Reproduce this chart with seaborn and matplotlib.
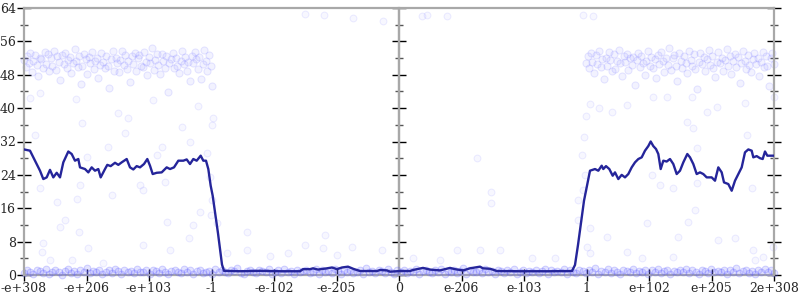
import numpy as np
import pandas as pd
import matplotlib
matplotlib.use("Agg")
import matplotlib.pyplot as plt
from matplotlib.ticker import MultipleLocator, NullFormatter
import seaborn as sns

# ---------------- data ----------------
tick_pos = list(range(13))
tick_labels = ["-e+308", "-e+206", "-e+103", "-1", "-e-102", "-e-205", "0",
               "e-206", "e-103", "1", "e+102", "e+205", "2e+308"]

# moving-average line (x in sample-position units 0..12, y value)
line_x = [0.0, 0.096, 0.176, 0.256, 0.309, 0.363, 0.416, 0.469, 0.523, 0.576, 0.629, 0.709,
          0.763, 0.816, 0.869, 0.896, 0.976, 1.029, 1.083, 1.136, 1.189, 1.227, 1.296, 1.333,
          1.387, 1.456, 1.509, 1.563, 1.643, 1.696, 1.749, 1.803, 1.856, 1.92, 1.973, 2.016,
          2.059, 2.123, 2.203, 2.283, 2.336, 2.4, 2.469, 2.549, 2.603, 2.656, 2.709, 2.763,
          2.827, 2.869, 2.912, 2.949, 2.987, 3.019, 3.104, 3.168, 3.2,
          3.456, 3.776, 4.096, 4.416, 4.464, 4.576, 4.624, 4.704, 4.848, 4.928, 5.008, 5.088,
          5.184, 5.264, 5.376, 5.648, 5.696, 5.808, 5.856, 6.016, 6.176, 6.224, 6.384, 6.496,
          6.656, 6.816, 6.896, 7.024, 7.136, 7.296, 7.344, 7.456, 7.568, 7.936, 8.416, 8.768,
          8.816, 8.864, 8.96, 9.003, 9.056,
          9.136, 9.189, 9.243, 9.269, 9.312, 9.365, 9.419, 9.456, 9.509, 9.563, 9.616, 9.669,
          9.723, 9.776, 9.829, 9.883, 9.936, 9.989, 10.027, 10.069, 10.112, 10.149, 10.187,
          10.229, 10.283, 10.336, 10.389, 10.443, 10.496, 10.549, 10.613, 10.656, 10.709,
          10.763, 10.816, 10.869, 10.923, 11.003, 11.056, 11.109, 11.163, 11.2, 11.269,
          11.323, 11.376, 11.429, 11.483, 11.536, 11.589, 11.643, 11.669, 11.723, 11.776,
          11.819, 11.856, 11.893, 11.936, 12.0]
line_y = [30.1, 29.8, 27.4, 25.0, 23.0, 23.4, 25.2, 23.4, 24.5, 23.4, 27.0, 29.6,
          29.0, 27.4, 27.8, 25.8, 25.4, 24.6, 25.8, 25.0, 25.4, 23.4, 25.4, 26.4,
          26.1, 26.9, 26.4, 27.0, 27.8, 25.8, 25.3, 26.1, 25.8, 26.6, 27.8, 26.2,
          24.2, 24.5, 24.6, 25.8, 25.4, 25.8, 27.4, 27.4, 27.7, 26.6, 27.8, 27.4,
          28.6, 27.4, 27.4, 25.4, 21.4, 19.0, 10.0, 2.5, 1.0,
          0.9, 1.0, 0.9, 0.9, 1.4, 1.4, 1.6, 1.3, 1.6, 1.8, 1.4, 1.8,
          2.0, 1.5, 0.95, 0.95, 1.2, 1.1, 0.8, 0.95, 0.95, 1.2, 1.7, 1.3,
          1.1, 1.7, 1.4, 1.1, 1.6, 2.0, 1.6, 1.5, 0.95, 0.9, 0.9, 0.95,
          2.4, 7.2, 17.8, 21.0, 25.0,
          25.4, 25.0, 26.2, 25.4, 26.1, 25.4, 23.8, 24.6, 23.0, 24.0, 23.4, 24.2,
          25.8, 27.0, 27.8, 28.2, 29.8, 30.9, 32.0, 30.9, 30.2, 29.0, 25.4,
          27.4, 27.2, 27.8, 26.6, 24.2, 25.0, 27.0, 29.0, 28.2, 26.6,
          24.2, 24.6, 24.2, 23.4, 23.4, 22.6, 25.8, 24.6, 22.2, 21.8,
          20.2, 22.6, 24.2, 25.8, 29.4, 30.1, 29.8, 28.2, 28.5, 28.0,
          27.8, 29.6, 28.6, 28.6, 28.6]

# high cluster of samples, left segment (x 0..3) and right segment (x 9..12)
hi_left = [51.5, 49.8, 52.6, 50.9, 53.1, 48.7, 51.2, 52.8, 50.3, 47.6, 52.1, 51.7, 49.5, 53.4,
           50.6, 52.9, 48.9, 51.9, 50.2, 53.7, 49.1, 52.4, 51.0, 46.8, 52.7, 50.5, 53.2, 49.7,
           51.6, 52.2, 48.4, 50.8, 54.1, 51.3, 49.9, 52.5, 45.9, 50.1, 53.0, 51.8, 48.2, 52.3,
           50.7, 53.5, 49.3, 51.4, 52.0, 47.3, 50.4, 53.3, 51.1, 49.6, 52.6, 50.0, 44.8, 51.7,
           53.8, 49.0, 52.1, 50.9, 48.6, 51.5, 53.6, 50.3, 52.8, 49.4, 51.2, 46.3, 52.4, 50.6,
           53.1, 48.8, 51.9, 52.7, 50.2, 49.8, 53.4, 51.0, 47.9, 52.2, 50.8, 54.3, 49.2, 51.6,
           52.9, 50.4, 48.1, 53.0, 51.3, 49.7, 52.5, 43.9, 50.7, 51.8, 53.2, 49.5, 52.0, 50.1,
           48.5, 51.4, 53.7, 50.5, 52.3, 49.0, 51.1, 46.5, 52.6, 50.9, 53.5, 51.7, 49.3, 52.2,
           47.1, 50.6, 53.9, 51.2, 48.9, 52.8, 50.0, 45.2]
hi_right = [50.8, 52.4, 49.6, 53.2, 51.1, 48.3, 52.7, 50.5, 53.6, 49.9, 51.8, 46.9, 52.0, 50.2,
            53.4, 51.5, 48.8, 52.9, 49.4, 51.3, 54.0, 50.7, 47.7, 52.5, 51.0, 53.0, 49.2, 51.9,
            50.4, 52.2, 45.6, 51.6, 53.3, 49.8, 52.6, 50.9, 48.0, 51.4, 53.8, 50.1, 52.3, 49.5,
            51.7, 47.2, 52.8, 50.6, 53.5, 51.2, 48.6, 52.1, 50.3, 54.4, 49.1, 51.9, 52.7, 50.0,
            46.4, 53.1, 51.3, 49.7, 52.4, 50.8, 48.4, 53.7, 51.6, 50.2, 52.9, 49.3, 44.5, 51.1,
            53.2, 50.5, 52.2, 48.9, 51.8, 53.9, 50.4, 52.5, 49.6, 47.5, 51.0, 53.4, 50.7, 52.0,
            49.0, 51.5, 54.2, 50.1, 52.6, 48.2, 51.2, 53.0, 49.9, 52.3, 46.1, 50.9, 53.6, 51.4,
            49.4, 52.8, 50.3, 48.7, 51.7, 53.3, 50.6, 52.1, 47.8, 51.0, 53.5, 49.8, 52.4, 50.0,
            45.3, 51.9, 53.1, 50.5]
# low cluster of samples across the whole range (x 0..12)
lo_all = [0.4, 1.1, 0.7, 0.2, 1.3, 0.9, 0.5, 1.5, 0.3, 0.8, 1.2, 0.6, 0.1, 1.0, 1.4, 0.5,
          0.9, 0.3, 1.2, 0.7, 1.6, 0.4, 1.0, 0.6, 1.3, 0.2, 0.8, 1.1, 0.5, 1.4, 0.9, 0.3,
          1.2, 0.7, 1.0, 0.4, 1.5, 0.6, 0.8, 1.3, 0.2, 1.1, 0.9, 0.5, 1.4, 0.7, 0.3, 1.0,
          1.2, 0.6, 0.4, 1.5, 0.8, 1.1, 0.2, 0.9, 1.3, 0.5, 0.7, 1.0, 0.3, 1.4, 0.6, 1.2,
          0.8, 0.4, 1.1, 0.9, 1.6, 0.5, 0.2, 1.0, 1.3, 0.7, 0.4, 1.2, 0.9, 0.6, 1.5, 0.3,
          0.8, 1.1, 0.5, 1.4, 0.7, 1.0, 0.2, 1.3, 0.6, 0.9, 1.2, 0.4, 0.8, 1.5, 0.3, 1.1,
          0.7, 1.0, 0.5, 1.4, 0.9, 0.2, 1.2, 0.6, 1.3, 0.4, 0.8, 1.1, 0.3, 1.6, 0.7, 1.0,
          0.5, 1.2, 0.9, 0.4, 1.4, 0.6, 0.2, 1.1, 0.8, 1.3, 0.5, 1.0, 0.7, 1.5, 0.3, 0.9,
          1.2, 0.6, 0.4, 1.1, 0.8, 1.4, 0.2, 1.0, 0.7, 1.3, 0.5, 0.9, 1.6, 0.3, 1.2, 0.6,
          0.8, 1.1, 0.4, 1.5, 0.7, 1.0, 0.2, 1.3, 0.9, 0.5, 1.2, 0.6, 1.4, 0.3, 0.8, 1.1,
          0.5, 1.0, 0.7, 1.3, 0.4, 0.9, 1.5, 0.2, 1.2, 0.6, 1.0, 0.8, 1.4, 0.3, 1.1, 0.7,
          0.5, 1.3, 0.9, 0.4, 1.2, 0.6, 1.6, 0.2, 1.0, 0.8, 1.4, 0.5, 1.1, 0.7, 0.3, 1.3,
          0.9, 0.6, 1.5, 0.4, 1.0, 0.8, 1.2, 0.2, 1.1, 0.7, 1.4, 0.5, 0.9, 1.3, 0.3, 1.0,
          0.6, 1.2, 0.8, 1.5, 0.4, 1.1, 0.7, 0.2, 1.3, 0.9, 0.5, 1.4, 0.6, 1.0, 0.8, 1.2,
          0.3, 1.1, 0.7, 1.6, 0.4, 0.9, 1.3, 0.5, 1.0, 0.2, 1.2, 0.8, 1.4, 0.6, 1.1, 0.4]
# sparse samples in between
mid_x = [0.1, 0.26, 0.83, 0.93, 1.5, 1.66, 1.62, 1.34, 0.18, 2.06, 2.21, 2.53, 2.66, 2.78,
         0.26, 0.53, 0.66, 0.58, 0.88, 0.85, 0.9, 1.01, 1.41, 1.02, 0.3, 0.29, 0.42, 0.77,
         1.26, 1.86, 1.9, 2.26, 2.29, 2.7, 2.64, 2.34, 1.9, 2.13, 2.98, 3.01, 2.99, 3.02, 3.0,
         2.93, 3.09, 3.56, 4.82, 5.25, 4.5, 3.57, 3.25, 3.94, 4.22, 4.78, 5.01, 5.73, 2.82,
         8.93, 8.97, 8.95, 8.87, 8.86, 9.01, 9.06, 7.25, 7.47, 7.47, 7.3, 6.93, 7.62, 8.5,
         6.22, 6.66, 8.13, 9.05, 8.99, 8.96, 9.05,
         10.05, 10.18, 10.39, 10.74, 9.97, 10.62, 10.46, 11.1, 11.38, 9.33, 9.65, 9.89,
         10.39, 11.66, 11.7, 11.82, 11.98, 11.65, 10.77, 9.65, 10.06, 10.29, 10.69, 10.93,
         11.09, 11.54, 10.61, 10.71, 11.57, 12.0, 10.77, 9.2, 9.4,
         4.5, 4.8, 5.27, 5.75, 6.37, 6.45, 6.77, 8.95, 9.1]
mid_y = [42.4, 43.6, 42.2, 36.4, 38.8, 37.6, 34.0, 30.7, 33.6, 41.9, 30.7, 35.5, 31.9, 40.5,
         20.8, 17.5, 13.2, 11.5, 10.3, 18.2, 21.6, 28.3, 19.2, 6.5, 7.7, 5.5, 3.6, 3.6,
         2.9, 21.6, 20.4, 22.3, 12.7, 12.0, 8.9, 6.0, 7.2, 28.8, 23.5, 18.0, 14.5, 37.6, 36.0,
         29.2, 12.5, 10.3, 9.6, 6.7, 7.2, 6.0, 5.3, 4.6, 5.3, 6.5, 4.8, 6.0, 15.1,
         28.8, 24.0, 20.4, 18.0, 13.2, 6.7, 11.3, 28.0, 19.9, 17.3, 6.0, 6.0, 6.0, 4.0,
         4.0, 3.6, 4.0, 5.3, 38.0, 33.0, 41.0,
         24.0, 21.6, 20.8, 15.6, 12.5, 12.7, 9.1, 8.4, 8.9, 9.1, 5.5, 4.0,
         4.3, 6.0, 3.6, 4.3, 6.7, 20.8, 22.0, 40.7, 42.7, 42.7, 42.7, 39.1,
         40.3, 41.2, 36.7, 35.2, 33.6, 42.7, 30.4, 40.0, 39.0,
         62.5, 62.4, 61.6, 60.9, 62.0, 62.3, 62.0, 62.3, 62.0]

# ---------------- figure ----------------
sns.set_style("white")
plt.rcParams["font.family"] = ["DejaVu Serif"]

fig = plt.figure(figsize=(8, 3), dpi=100)
ax = fig.add_axes([24 / 800, 25 / 300, 750 / 800, 267 / 300])

band_df = pd.concat([
    pd.DataFrame({"x": np.linspace(0, 3.01, len(hi_left)), "y": hi_left}),
    pd.DataFrame({"x": np.linspace(8.99, 12, len(hi_right)), "y": hi_right}),
], ignore_index=True)
low_df = pd.DataFrame({"x": np.linspace(0, 12, len(lo_all)), "y": lo_all})
mid_df = pd.DataFrame({"x": mid_x, "y": mid_y})

sns.scatterplot(data=band_df, x="x", y="y", ax=ax, s=26,
                facecolor=(0.5, 0.5, 1.0, 0.10), edgecolor=(0.4, 0.4, 1.0, 0.16),
                linewidth=0.7, zorder=2, clip_on=False)
sns.scatterplot(data=low_df, x="x", y="y", ax=ax, s=24,
                facecolor=(0.45, 0.45, 1.0, 0.20), edgecolor=(0.35, 0.35, 1.0, 0.25),
                linewidth=0.7, zorder=2, clip_on=False)
sns.scatterplot(data=mid_df, x="x", y="y", ax=ax, s=24,
                facecolor=(0.5, 0.5, 1.0, 0.06), edgecolor=(0.4, 0.4, 1.0, 0.12),
                linewidth=0.7, zorder=2, clip_on=False)

line_df = pd.DataFrame({"x": line_x, "y": line_y})
sns.lineplot(data=line_df, x="x", y="y", ax=ax, sort=False, estimator=None,
             color="#25259a", linewidth=1.7, zorder=4)

ax.set_xlim(0, 12)
ax.set_ylim(0, 64)
ax.set_xlabel("")
ax.set_ylabel("")

grey = "#a8a8a8"
for side in ["left", "right", "top", "bottom"]:
    ax.spines[side].set_visible(True)
    ax.spines[side].set_color(grey)
    ax.spines[side].set_linewidth(1.6)
ax.spines["bottom"].set_zorder(1)

ax.axvline(6, color=grey, linewidth=1.6, zorder=1)

ax.set_xticks(tick_pos)
ax.set_xticklabels(tick_labels)
ax.yaxis.set_major_locator(MultipleLocator(8))
ax.yaxis.set_minor_locator(MultipleLocator(4))
ax.tick_params(axis="x", which="major", direction="inout", length=8, width=1,
               color="black", labelsize=9, pad=1, bottom=True)
ax.tick_params(axis="y", which="major", direction="inout", length=10, width=1,
               color="black", labelsize=9, pad=1, left=True, right=True, labelright=False)
ax.tick_params(axis="y", which="minor", direction="inout", length=6, width=1,
               color="#555555", left=True, right=True)

sec = ax.secondary_yaxis(0.5)
sec.yaxis.set_major_locator(MultipleLocator(8))
sec.yaxis.set_minor_locator(MultipleLocator(4))
sec.yaxis.set_major_formatter(NullFormatter())
sec.tick_params(axis="y", which="major", direction="inout", length=10, width=1, color="black")
sec.tick_params(axis="y", which="minor", direction="inout", length=6, width=1, color="#555555")
for s in sec.spines.values():
    s.set_color(grey)
    s.set_linewidth(1.6)

fig.savefig("out.png", dpi=100)
